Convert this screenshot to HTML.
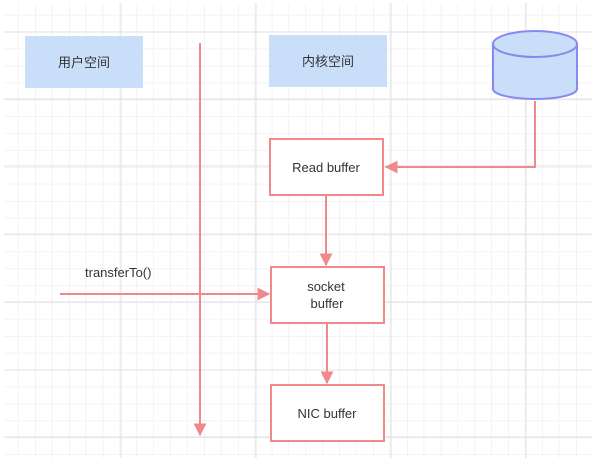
<!DOCTYPE html>
<html><head><meta charset="utf-8"><style>
html,body{margin:0;padding:0;background:#fff;width:606px;height:471px;overflow:hidden}
svg{display:block}
text{font-family:"Liberation Sans","Noto Sans CJK SC",sans-serif;fill:#333;font-size:13px}
</style></head><body>
<svg width="606" height="471" viewBox="0 0 606 471" xmlns="http://www.w3.org/2000/svg">
<defs>
<pattern id="g" x="1.4" y="-1.8" width="33.8" height="33.8" patternUnits="userSpaceOnUse">
<path d="M16.9 0V33.8M0 16.9H33.8" stroke="#f4f4f4" stroke-width="1"/>
<path d="M0 0V33.8M0 0H33.8" stroke="#e8e8e8" stroke-width="1"/>
</pattern>
<marker id="a" viewBox="0 0 10 10" refX="9" refY="5" markerWidth="6.5" markerHeight="6.5" orient="auto">
<path d="M0 0L10 5L0 10z" fill="#f08a8a"/></marker>
</defs>
<rect x="4" y="3" width="588" height="455" fill="url(#g)"/>
<g stroke="#e2e2e2" stroke-width="1">
<path d="M121 3V458M256 3V458M391 3V458M526 3V458"/>
<path d="M4 32H592M4 99H592M4 166H592M4 234H592M4 302H592M4 370H592M4 437H592"/>
</g>
<rect x="25" y="36" width="118" height="52" fill="#c9def8"/>
<text x="84" y="67" text-anchor="middle">用户空间</text>
<rect x="269" y="35" width="118" height="52" fill="#c9def8"/>
<text x="328" y="66" text-anchor="middle">内核空间</text>
<path d="M493 44V89A42 10 0 0 0 577 89V44" fill="#c9def8" stroke="#8888f0" stroke-width="2"/>
<ellipse cx="535" cy="44" rx="42" ry="13" fill="#c9def8" stroke="#8888f0" stroke-width="2"/>
<g stroke="#f08a8a" stroke-width="2" fill="none">
<path d="M200 43V435" marker-end="url(#a)"/>
<path d="M535 101V167H386" marker-end="url(#a)"/>
<path d="M326 195V265" marker-end="url(#a)"/>
<path d="M327 323V383" marker-end="url(#a)"/>
<path d="M60 294H269" marker-end="url(#a)"/>
<rect x="270" y="139" width="113" height="56" fill="#fff"/>
<rect x="271" y="267" width="113" height="56" fill="#fff"/>
<rect x="271" y="385" width="113" height="56" fill="#fff"/>
</g>
<text x="326" y="172" text-anchor="middle">Read buffer</text>
<text x="326" y="291" text-anchor="middle">socket</text>
<text x="327" y="308" text-anchor="middle">buffer</text>
<text x="327" y="418" text-anchor="middle">NIC buffer</text>
<text x="85" y="277">transferTo()</text>
</svg>
</body></html>
